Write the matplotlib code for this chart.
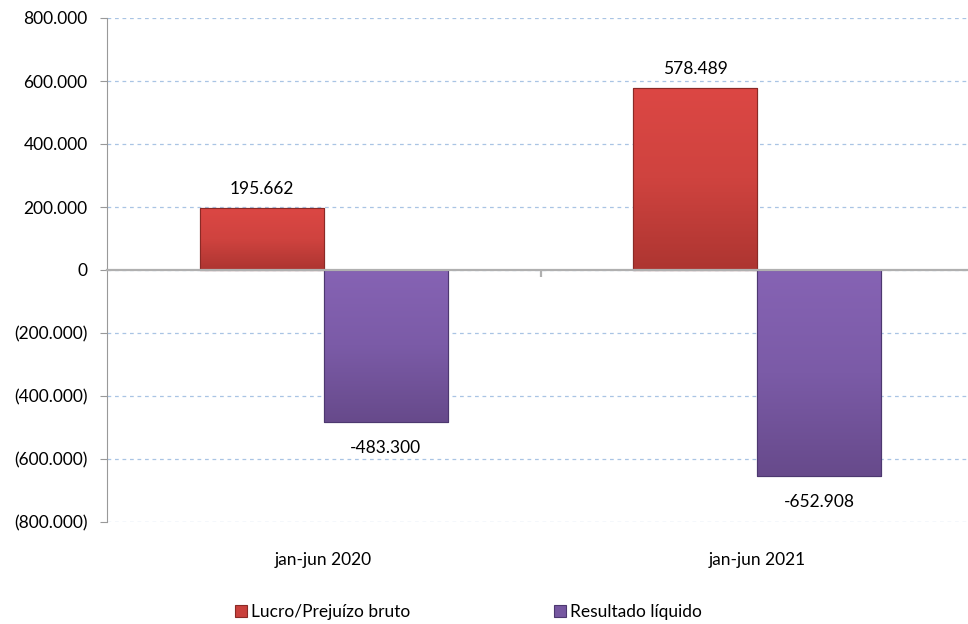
import matplotlib.pyplot as plt
import numpy as np
from matplotlib.ticker import FuncFormatter
from matplotlib.colors import LinearSegmentedColormap

periods = ["jan-jun 2020", "jan-jun 2021"]
lucro_bruto = [195662, 578489]
resultado_liquido = [-483300, -652908]
series_names = ["Lucro/Prejuízo bruto", "Resultado líquido"]

red = "#c9403c"
purple = "#7657a0"
red_grad = LinearSegmentedColormap.from_list("r", ["#dc4744", "#cf433f", "#ad3531"])
purple_grad = LinearSegmentedColormap.from_list("p", ["#8663b4", "#7b5ba7", "#674a8b"])

plt.rcParams['font.family'] = ['Lato', 'DejaVu Sans']

fig = plt.figure(figsize=(9.68, 6.24), dpi=100)
ax = fig.add_axes([107/968, 1 - 522/624, (974 - 107)/968, (522 - 18)/624])

x = np.arange(len(periods))
w = 0.286

b1 = ax.bar(x - w/2, lucro_bruto, w, color=red, edgecolor="#8a2a26", linewidth=0.8,
            label=series_names[0], zorder=3)
b2 = ax.bar(x + w/2, resultado_liquido, w, color=purple, edgecolor="#4d3870", linewidth=0.8,
            label=series_names[1], zorder=3)

# vertical gradient fill, clipped to each bar
grad = np.linspace(0, 1, 256).reshape(-1, 1)
for bars, cmap in [(b1, red_grad), (b2, purple_grad)]:
    for rect in bars:
        x0, y0 = rect.get_x(), rect.get_y()
        x1, y1 = x0 + rect.get_width(), y0 + rect.get_height()
        lo, hi = min(y0, y1), max(y0, y1)
        im = ax.imshow(grad, cmap=cmap, aspect="auto", extent=(x0, x1, lo, hi),
                       origin="upper", zorder=3.5)
        im.set_clip_path(rect)
        ax.add_patch(plt.Rectangle((x0, lo), x1 - x0, hi - lo, fill=False,
                                   edgecolor=rect.get_edgecolor(), linewidth=0.8, zorder=3.6))


def fmt_num(v):
    return f"{abs(int(v)):,}".replace(",", ".")


for rect, v in zip(b1, lucro_bruto):
    ax.annotate(fmt_num(v), (rect.get_x() + rect.get_width()/2, v), xytext=(0, 8),
                textcoords="offset points", ha="center", va="bottom", fontsize=12.5)
for rect, v in zip(b2, resultado_liquido):
    ax.annotate("-" + fmt_num(v), (rect.get_x() + rect.get_width()/2, v), xytext=(0, -13),
                textcoords="offset points", ha="center", va="top", fontsize=12.5)

ax.set_ylim(-800000, 800000)
ax.set_xlim(-0.5, 1.5)
ax.set_yticks(np.arange(-800000, 800001, 200000))


def yfmt(v, pos):
    if v == 0:
        return "0"
    if v < 0:
        return "(" + fmt_num(v) + ")"
    return fmt_num(v)


ax.yaxis.set_major_formatter(FuncFormatter(yfmt))
ax.tick_params(axis="y", labelsize=12.5, length=5, color="#999999", pad=9)

# category axis drawn at zero, labels placed below the plot
ax.spines["bottom"].set_position(("data", 0))
ax.spines["bottom"].set_color("#b0b0b0")
ax.spines["bottom"].set_linewidth(1.6)
ax.spines["bottom"].set_zorder(4)
ax.set_xticks([0.5])
ax.set_xticklabels([""])
ax.tick_params(axis="x", length=5, color="#b0b0b0", width=1.6)
for xi, lab in zip(x, periods):
    ax.text(xi, -38/504, lab, transform=ax.get_xaxis_transform(), ha="center", va="center",
            fontsize=12.5)

ax.grid(axis="y", linestyle=(0, (3, 3)), color="#a9c4e4", linewidth=0.9, zorder=0)
for s in ["top", "right"]:
    ax.spines[s].set_visible(False)
ax.spines["left"].set_color("#999999")

fig.legend(handles=[b1, b2], labels=series_names, loc="center", bbox_to_anchor=(0.484, 1 - 612/624),
           ncol=2, frameon=False, fontsize=12.5, handlelength=0.7, handleheight=0.7,
           handletextpad=0.2, columnspacing=8.3)

fig.savefig("out.png", dpi=100)
